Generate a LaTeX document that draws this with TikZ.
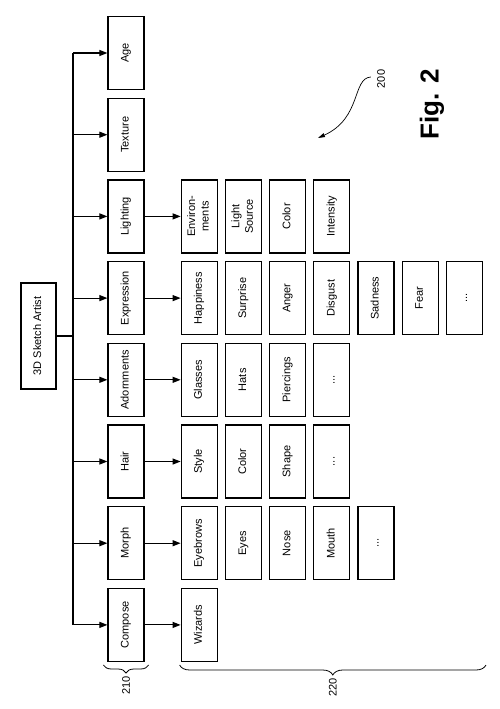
\documentclass[tikz,border=0pt]{standalone}
\usepackage{fontspec}
\setmainfont{Liberation Sans}
\usepackage{graphicx}
\usetikzlibrary{arrows.meta, positioning, calc, decorations.pathreplacing}
\newcommand{\rot}[1]{\rotatebox{90}{\begin{tabular}{@{}c@{}}#1\end{tabular}}}
\tikzset{
  box/.style  = {rectangle, draw, line width=1.2pt, minimum width=36pt,
                 minimum height=73pt, inner sep=0pt,
                 font=\fontsize{11}{13.5}\selectfont},
  top/.style  = {box, minimum width=35pt, minimum height=106pt},
  lbl/.style  = {inner sep=0pt, font=\fontsize{11}{13.5}\selectfont},
  arr/.style  = {-{Triangle[length=8pt,width=6pt]}, line width=1.1pt},
  ptr/.style  = {-{Triangle[length=7pt,width=4pt]}, line width=0.7pt},
  brc/.style  = {decorate, decoration={brace, mirror, amplitude=#1},
                 line width=0.8pt},
  brc/.default = 8pt,
}

\begin{document}
\begin{tikzpicture}[x=1pt, y=1pt]
  \useasboundingbox (0,0) rectangle (500,-709);

  %% Root and first level
  \node[top] (sketch) at (38.5,-336) {\rot{3D Sketch Artist}};
  \node[box] (age) at (126,-53) {\rot{Age}};
  \node[box, below=7.5pt of age]   (tex)   {\rot{Texture}};
  \node[box, below=7.5pt of tex]   (light) {\rot{Lighting}};
  \node[box, below=7.5pt of light] (expr)  {\rot{Expression}};
  \node[box, below=7.5pt of expr]  (adorn) {\rot{Adornments}};
  \node[box, below=7.5pt of adorn] (hair)  {\rot{Hair}};
  \node[box, below=7.5pt of hair]  (morph) {\rot{Morph}};
  \node[box, below=7.5pt of morph] (comp)  {\rot{Compose}};

  %% Lighting row
  \node[box, right=36pt of light] (env)    {\rot{Environ-\\ments}};
  \node[box, right=7pt of env]    (lsrc)   {\rot{Light\\Source}};
  \node[box, right=7pt of lsrc]   (lcol)   {\rot{Color}};
  \node[box, right=7pt of lcol]   (lint)   {\rot{Intensity}};

  %% Expression row
  \node[box, right=36pt of expr]  (happy)  {\rot{Happiness}};
  \node[box, right=7pt of happy]  (surp)   {\rot{Surprise}};
  \node[box, right=7pt of surp]   (anger)  {\rot{Anger}};
  \node[box, right=7pt of anger]  (disg)   {\rot{Disgust}};
  \node[box, right=7pt of disg]   (sad)    {\rot{Sadness}};
  \node[box, right=7pt of sad]    (fear)   {\rot{Fear}};
  \node[box, right=7pt of fear]   (emore)  {\rot{...}};

  %% Adornments row
  \node[box, right=36pt of adorn] (glass)  {\rot{Glasses}};
  \node[box, right=7pt of glass]  (hats)   {\rot{Hats}};
  \node[box, right=7pt of hats]   (pierc)  {\rot{Piercings}};
  \node[box, right=7pt of pierc]  (amore)  {\rot{...}};

  %% Hair row
  \node[box, right=36pt of hair]  (style)  {\rot{Style}};
  \node[box, right=7pt of style]  (hcol)   {\rot{Color}};
  \node[box, right=7pt of hcol]   (shape)  {\rot{Shape}};
  \node[box, right=7pt of shape]  (hmore)  {\rot{...}};

  %% Morph row
  \node[box, right=36pt of morph] (brow)   {\rot{Eyebrows}};
  \node[box, right=7pt of brow]   (eyes)   {\rot{Eyes}};
  \node[box, right=7pt of eyes]   (nose)   {\rot{Nose}};
  \node[box, right=7pt of nose]   (mouth)  {\rot{Mouth}};
  \node[box, right=7pt of mouth]  (mmore)  {\rot{...}};

  %% Compose row
  \node[box, right=36pt of comp]  (wiz)    {\rot{Wizards}};

  %% Trunk
  \coordinate (trunk) at (73,0);
  \draw[line width=1.1pt] (sketch.east) -- (sketch.east -| trunk);
  \draw[line width=1.1pt] (age.west -| trunk) -- (comp.west -| trunk);
  \draw[arr] (age.west -| trunk)   -- (age.west);
  \draw[arr] (tex.west -| trunk)   -- (tex.west);
  \draw[arr] (light.west -| trunk) -- (light.west);
  \draw[arr] (expr.west -| trunk)  -- (expr.west);
  \draw[arr] (adorn.west -| trunk) -- (adorn.west);
  \draw[arr] (hair.west -| trunk)  -- (hair.west);
  \draw[arr] (morph.west -| trunk) -- (morph.west);
  \draw[arr] (comp.west -| trunk)  -- (comp.west);

  %% Second level arrows
  \draw[arr] (light) -- (env);
  \draw[arr] (expr)  -- (happy);
  \draw[arr] (adorn) -- (glass);
  \draw[arr] (hair)  -- (style);
  \draw[arr] (morph) -- (brow);
  \draw[arr] (comp)  -- (wiz);

  %% Braces
  \coordinate (b210a) at ([xshift=-4pt,yshift=-3pt]comp.south west);
  \coordinate (b210b) at ([xshift=4pt,yshift=-3pt]comp.south east);
  \draw[brc] (b210a) -- (b210b);
  \node[lbl, below=11pt of $(b210a)!0.5!(b210b)$] (n210)
        {\rotatebox{90}{210}};

  \coordinate (b220a) at ([xshift=-1pt,yshift=-3pt]wiz.south west);
  \coordinate (b220b) at ([xshift=3pt]b220a -| emore.east);
  \draw[brc=10pt] (b220a) -- (b220b);
  \node[lbl, below=13pt of $(b220a)!0.5!(b220b)$] (n220)
        {\rotatebox{90}{220}};

  %% Figure label
  \node[lbl] (n200) at (381,-79) {\rotatebox{90}{200}};
  \coordinate (aim) at (318,-138);
  \draw[ptr] ([xshift=-6pt,yshift=2pt]n200.west)
        .. controls (352,-78) and (362,-118) .. (aim);
  \node[lbl, font=\bfseries\fontsize{26}{30}\selectfont] (fig)
        at (432,-104) {\rotatebox{90}{Fig. 2}};

\end{tikzpicture}
\end{document}
